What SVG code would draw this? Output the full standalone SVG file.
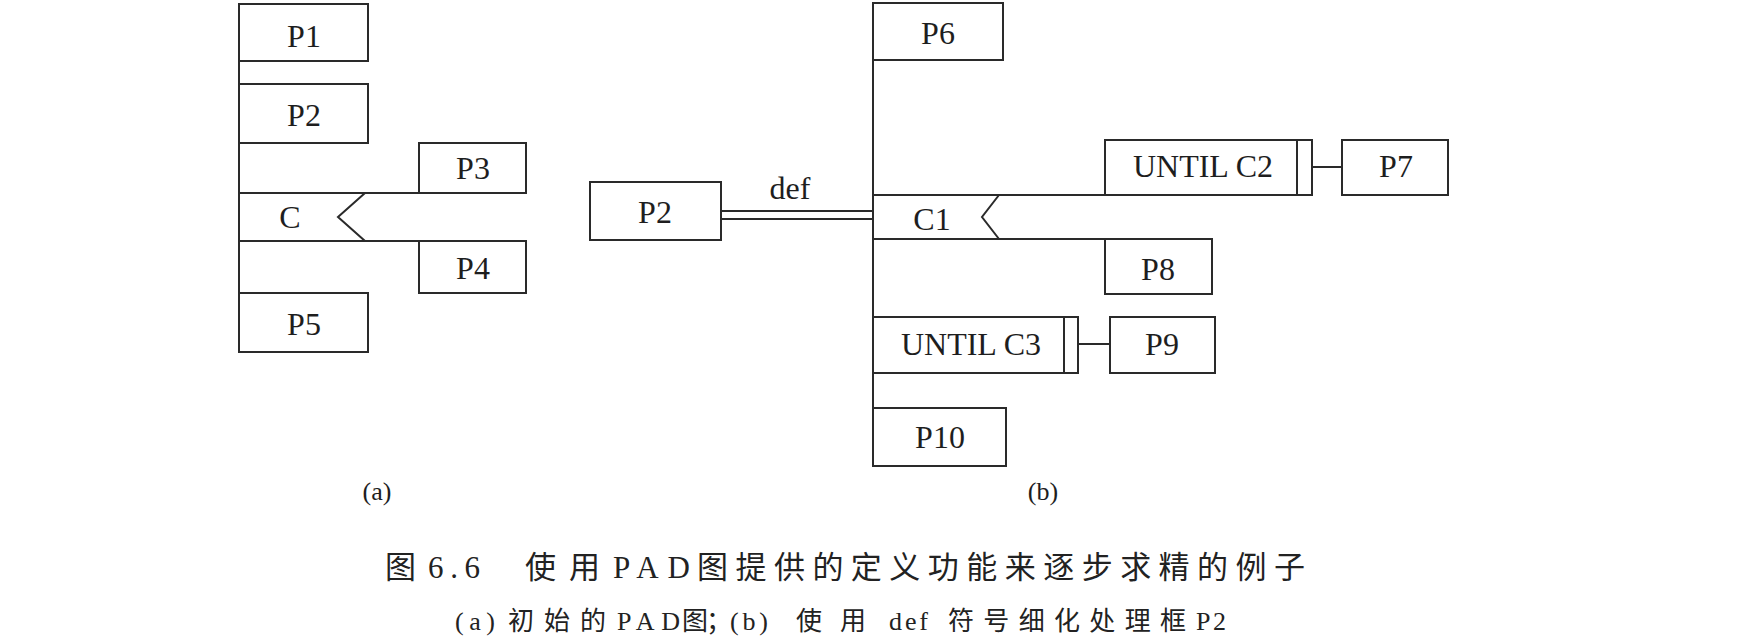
<svg xmlns="http://www.w3.org/2000/svg" width="1737" height="641" viewBox="0 0 1737 641">
<style>
.box{fill:#fff;stroke:#2a2a2a;stroke-width:2}
.ln{fill:none;stroke:#2a2a2a;stroke-width:2}
.t{font-family:"Liberation Serif","Times New Roman",serif;font-size:32px;fill:#1e1e1e;text-anchor:middle}
.lab{font-family:"Liberation Serif",serif;font-size:26px;fill:#1e1e1e;text-anchor:middle}
.cap{font-family:"Liberation Serif","Noto Sans CJK SC",serif;font-size:31px;fill:#222}
.sub{font-family:"Liberation Serif","Noto Sans CJK SC",serif;font-size:26px;fill:#222}
</style>
<rect width="1737" height="641" fill="#fff"/>
<g id="connectors">
  <line class="ln" x1="239" y1="4" x2="239" y2="352"/>
  <line class="ln" x1="239" y1="193" x2="526" y2="193"/>
  <line class="ln" x1="239" y1="241" x2="526" y2="241"/>
  <polyline class="ln" points="365,193 338,217 365,241"/>
  <line class="ln" x1="873" y1="3" x2="873" y2="466"/>
  <line class="ln" x1="873" y1="195" x2="1312" y2="195"/>
  <line class="ln" x1="873" y1="239" x2="1212" y2="239"/>
  <polyline class="ln" points="999,195 982,217 999,239"/>
  <line class="ln" x1="721" y1="211" x2="873" y2="211"/>
  <line class="ln" x1="721" y1="219" x2="873" y2="219"/>
  <line class="ln" x1="1312" y1="167" x2="1342" y2="167"/>
  <line class="ln" x1="1078" y1="344" x2="1110" y2="344"/>
</g>
<g id="P1"><rect class="box" x="239" y="4" width="129" height="57"/><text class="t" x="304" y="47">P1</text></g>
<g id="P2"><rect class="box" x="239" y="84" width="129" height="59"/><text class="t" x="304" y="126">P2</text></g>
<g id="P3"><rect class="box" x="419" y="143" width="107" height="50"/><text class="t" x="473" y="179">P3</text></g>
<g id="C"><text class="t" x="290" y="228">C</text></g>
<g id="P4"><rect class="box" x="419" y="241" width="107" height="52"/><text class="t" x="473" y="279">P4</text></g>
<g id="P5"><rect class="box" x="239" y="293" width="129" height="59"/><text class="t" x="304" y="335">P5</text></g>
<g id="P2b"><rect class="box" x="590" y="182" width="131" height="58"/><text class="t" x="655" y="223">P2</text></g>
<g id="def"><text class="t" x="790" y="199">def</text></g>
<g id="P6"><rect class="box" x="873" y="3" width="130" height="57"/><text class="t" x="938" y="44">P6</text></g>
<g id="C1"><text class="t" x="932" y="230">C1</text></g>
<g id="UNTILC2"><rect class="box" x="1105" y="140" width="207" height="55"/><line class="ln" x1="1297" y1="140" x2="1297" y2="195"/><text class="t" x="1203" y="177">UNTIL C2</text></g>
<g id="P7"><rect class="box" x="1342" y="140" width="106" height="55"/><text class="t" x="1396" y="177">P7</text></g>
<g id="P8"><rect class="box" x="1105" y="239" width="107" height="55"/><text class="t" x="1158" y="280">P8</text></g>
<g id="UNTILC3"><rect class="box" x="873" y="317" width="205" height="56"/><line class="ln" x1="1064" y1="317" x2="1064" y2="373"/><text class="t" x="971" y="355">UNTIL C3</text></g>
<g id="P9"><rect class="box" x="1110" y="317" width="105" height="56"/><text class="t" x="1162" y="355">P9</text></g>
<g id="P10"><rect class="box" x="873" y="408" width="133" height="58"/><text class="t" x="940" y="448">P10</text></g>
<text class="lab" x="377" y="500">(a)</text>
<text class="lab" x="1043" y="500">(b)</text>
<g id="caption">
<text class="cap" x="385" y="578">图</text>
<text class="cap" x="428" y="578" textLength="52" lengthAdjust="spacing">6.6</text>
<text class="cap" x="525" y="578" textLength="75" lengthAdjust="spacing">使用</text>
<text class="cap" x="613" y="578" textLength="77" lengthAdjust="spacing">PAD</text>
<text class="cap" x="697" y="578" textLength="608" lengthAdjust="spacing">图提供的定义功能来逐步求精的例子</text>
</g>
<g id="subcaption">
<text class="sub" x="455" y="630" textLength="40" lengthAdjust="spacing">(a)</text>
<text class="sub" x="508" y="630" textLength="98" lengthAdjust="spacing">初始的</text>
<text class="sub" x="617" y="630" textLength="63" lengthAdjust="spacing">PAD</text>
<text class="sub" x="682" y="630">图</text>
<text class="sub" x="706" y="630" font-size="22">；</text>
<text class="sub" x="730" y="630" textLength="38" lengthAdjust="spacing">(b)</text>
<text class="sub" x="796" y="630" textLength="70" lengthAdjust="spacing">使用</text>
<text class="sub" x="889" y="630" textLength="39" lengthAdjust="spacing">def</text>
<text class="sub" x="948" y="630" textLength="238" lengthAdjust="spacing">符号细化处理框</text>
<text class="sub" x="1196" y="630" textLength="30" lengthAdjust="spacing">P2</text>
</g>
</svg>
